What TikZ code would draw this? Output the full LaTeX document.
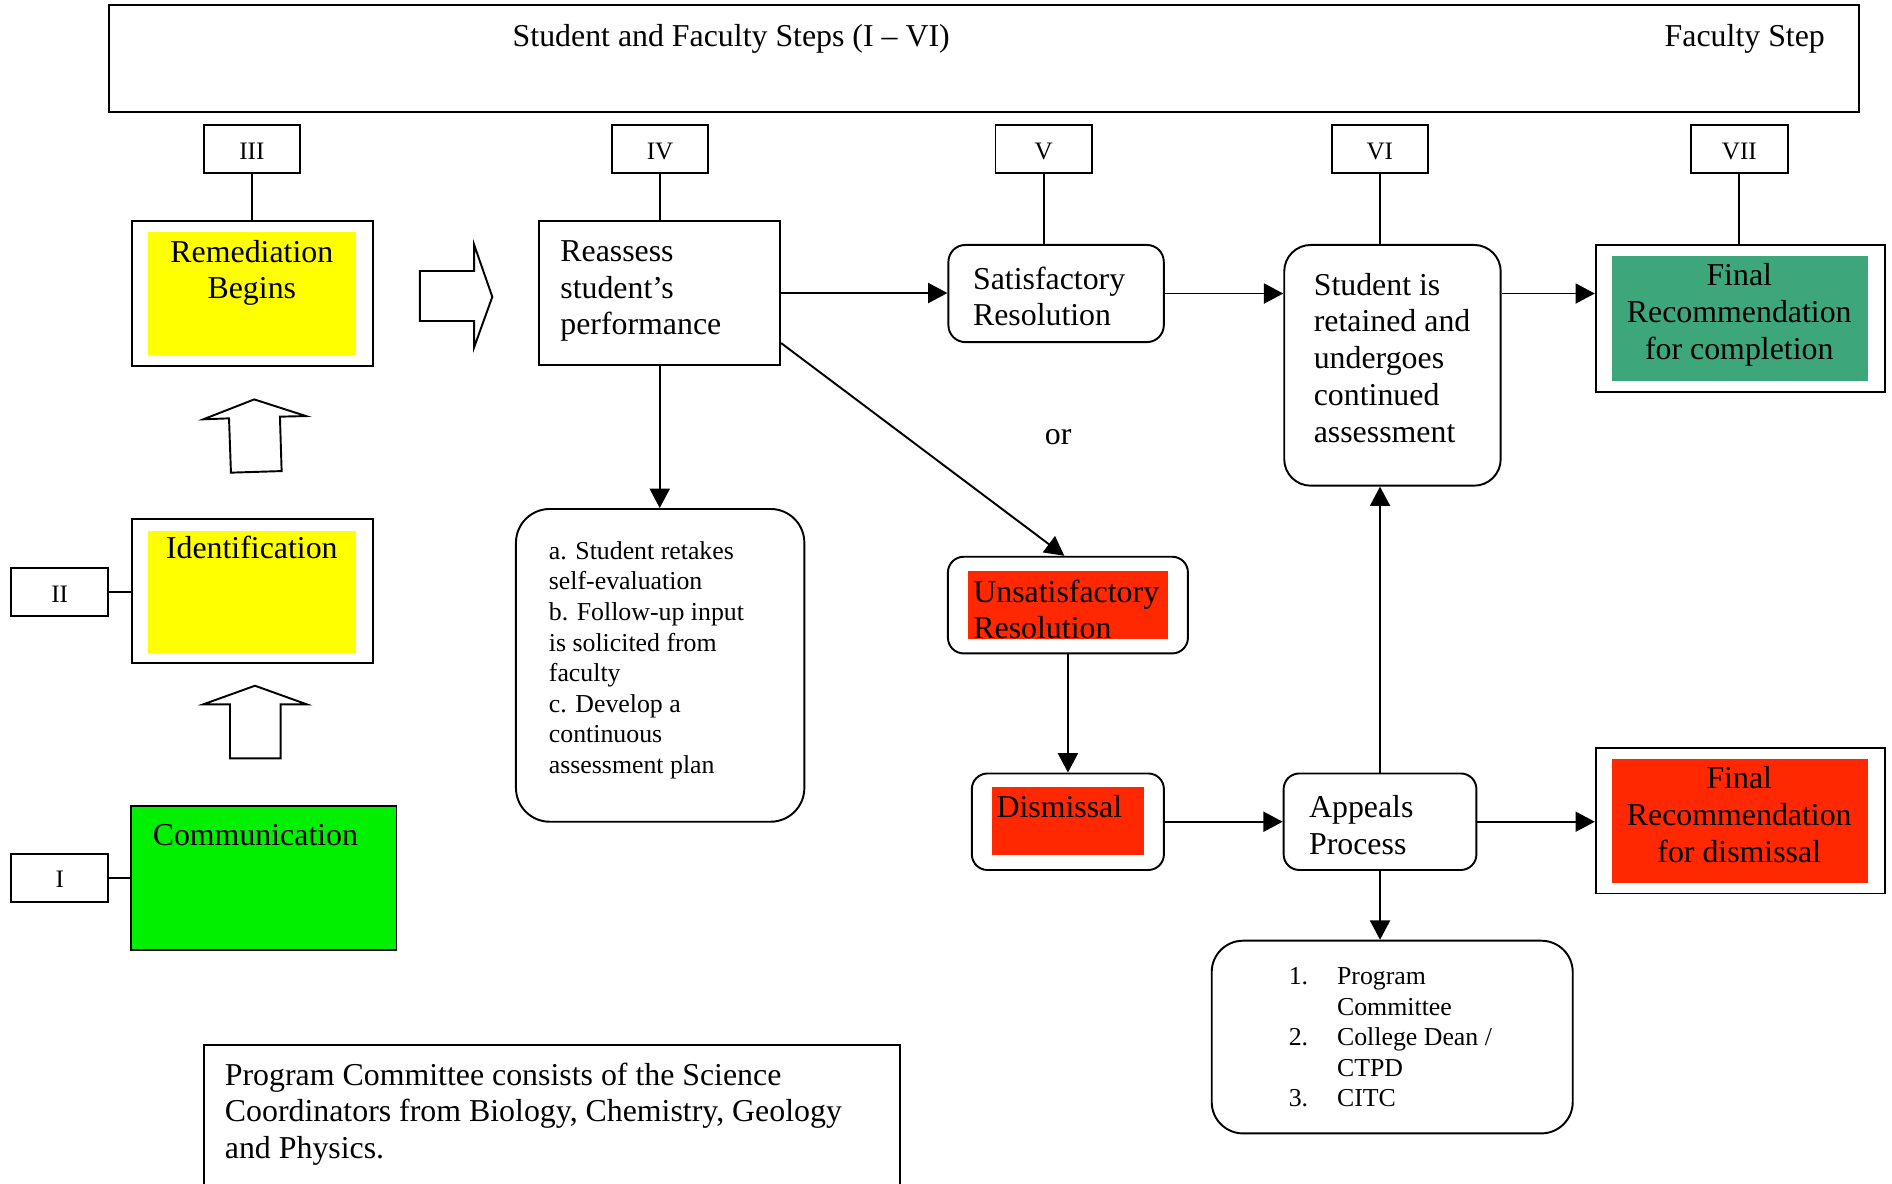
\documentclass[tikz,border=0pt]{standalone}
\usepackage{fontspec}
\setmainfont{Liberation Serif}
\usetikzlibrary{arrows.meta,fit,calc}
\definecolor{hlyellow}{HTML}{FFFF00}
\definecolor{hlgreen}{HTML}{00F000}
\definecolor{tealgreen}{HTML}{3DA67A}
\definecolor{hlred}{HTML}{FF2800}
\newcommand\fmain{\fontsize{13.2}{15.25}\selectfont}
\newcommand\fsmall{\fontsize{10.7}{12.65}\selectfont}
\newcommand\flab{\fontsize{10.4}{12}\selectfont}
\begin{document}
\begin{tikzpicture}[x=0.5pt,y=-0.5pt,
  box/.style={draw, line width=0.8pt, fill=white, inner sep=0pt},
  rbox/.style={box, rounded corners=#1},
  fillbox/.style={fill=#1, draw=none, inner sep=0pt},
  lab/.style={draw, line width=0.8pt, fill=white, minimum width=40pt, minimum height=20pt, inner sep=0pt, text height=8.4pt, text depth=0pt, font=\flab},
  txt/.style={inner sep=0pt, font=\fmain, align=left, anchor=north west},
  ctxt/.style={inner sep=0pt, font=\fmain, align=center, anchor=north},
  stxt/.style={inner sep=0pt, font=\fsmall, align=left, anchor=north west},
  conn/.style={line width=0.8pt},
  arr/.style={line width=0.8pt, -{Triangle[length=8pt,width=8.3pt]}},
  blockarrow/.style={line width=0.8pt, fill=white, line join=miter}
]
\useasboundingbox (0,0) rectangle (1568,981);
\fill[white] (0,0) rectangle (1568,981);

% header
\node[box, fit={(90,4.1)(1541,93.1)}] (top) {};
\node[anchor=base, inner sep=0pt, font=\fmain] (toptxt) at (606,38.5) {Student and Faculty Steps (I – VI)};
\node[anchor=base, inner sep=0pt, font=\fmain] (factxt) at (1446,38.5) {Faculty Step};

% step labels
\node[lab] (s3) at (208.7,123.5) {III};
\node[lab] (s4) at (547,123.5) {IV};
\node[lab] (s5) at (865,123.5) {V};
\node[lab] (s6) at (1143.5,123.5) {VI};
\node[lab] (s7) at (1441.5,123.5) {VII};
\node[lab] (s2) at (49.5,490.5) {II};
\node[lab] (s1) at (49.5,727.5) {I};

% left column
\node[box, fit={(109.7,183.2)(308.9,303)}] (rem) {};
\node[fillbox=hlyellow, fit={(122.4,192.3)(295,294.2)}] (remf) {};
\node[ctxt] (remt) at (208.7,195.5) {\strut Remediation\\Begins};

\node[box, fit={(109.7,430)(308.9,549.5)}] (ident) {};
\node[fillbox=hlyellow, fit={(122.4,440)(295,541)}] (identf) {};
\node[anchor=base, inner sep=0pt, font=\fmain] (identt) at (208.7,463.2) {Identification};

\node[box, fill=hlgreen, fit={(108.9,667.7)(328.6,787.6)}] (comm) {};
\node[anchor=base west, inner sep=0pt, font=\fmain] (commt) at (126.2,700.8) {Communication};

% block arrows
\draw[blockarrow] (348,224.6) -- (393,224.6) -- (393,203) -- (408,246) -- (393,287.6) -- (393,266) -- (348,266) -- cycle;
\draw[blockarrow] (210.7,331) -- (253.6,344.8) -- (232,345.3) -- (233.4,390.4) -- (191.4,391.7) -- (189.8,346.7) -- (168.5,347.5) -- cycle;
\draw[blockarrow] (211.3,568.3) -- (254.2,583.7) -- (232.6,583.7) -- (232.6,628.5) -- (190.6,628.5) -- (190.6,583.7) -- (168.5,583.7) -- cycle;

% reassess column
\node[box, fit={(447,183.2)(646.5,302.5)}] (reas) {};
\node[txt] (reast) at (464,194.85) {\strut Reassess\\student’s\\performance};

\node[rbox=14pt, fit={(427.6,421.8)(666.6,681)}] (tbox) {};
\node[stxt] (tboxt) at (454.5,445.5) {\strut a. Student retakes\\self-evaluation\\b. Follow-up input\\is solicited from\\faculty\\c. Develop a\\continuous\\assessment plan};

% satisfactory
\node[rbox=7pt, fit={(786,203)(964.5,283.5)}] (sat) {};
\node[txt] (satt) at (806,217.85) {\strut Satisfactory\\Resolution};

\node[anchor=base, inner sep=0pt, font=\fmain] (ortxt) at (877,368.2) {or};

% unsatisfactory
\node[rbox=6.5pt, fit={(785.6,461.4)(984.5,541.5)}] (unsat) {};
\node[fillbox=hlred, fit={(802.4,473.2)(968,529.3)}] (unsatf) {};
\node[txt] (unsatt) at (806.3,477.25) {\strut Unsatisfactory\\Resolution};

% dismissal
\node[rbox=6.5pt, fit={(805.4,641)(964.6,721)}] (dism) {};
\node[fillbox=hlred, fit={(822.2,652.3)(948,708.3)}] (dismf) {};
\node[anchor=base west, inner sep=0pt, font=\fmain] (dismt) at (825.5,677.3) {Dismissal};

% student retained
\node[rbox=11pt, fit={(1064.3,203)(1243.7,402.5)}] (stu) {};
\node[txt] (stut) at (1088.4,222.85) {\strut Student is\\retained and\\undergoes\\continued\\assessment};

% appeals
\node[rbox=6.5pt, fit={(1063.8,641)(1223.6,721)}] (app) {};
\node[txt] (appt) at (1084.5,655.95) {\strut Appeals\\Process};

% program list
\node[rbox=13pt, fit={(1004.2,779.6)(1303.4,939.3)}] (plist) {};
\node[stxt] (plistt) at (1067.7,797.8) {\strut\makebox[20pt][l]{1.}Program\\\hspace*{20pt}Committee\\\makebox[20pt][l]{2.}College Dean /\\\hspace*{20pt}CTPD\\\makebox[20pt][l]{3.}CITC};

% final recommendations
\node[box, fit={(1322.5,203)(1562,324.9)}] (fin1) {};
\node[fillbox=tealgreen, fit={(1335.9,212.2)(1548,315.5)}] (fin1f) {};
\node[ctxt] (fin1t) at (1441.4,214.85) {\strut Final\\Recommendation\\for completion};

\node[box, fit={(1322.5,620)(1562,740.5)}] (fin2) {};
\node[fillbox=hlred, fit={(1335.9,629)(1548,731.5)}] (fin2f) {};
\node[ctxt] (fin2t) at (1441.4,631.85) {\strut Final\\Recommendation\\for dismissal};

% bottom note
\node[box, fit={(168.7,866)(746,990)}] (note) {};
\node[txt] (notet) at (186,877.55) {\strut Program Committee consists of the Science\\Coordinators from Biology, Chemistry, Geology\\and Physics.};

% connectors
\draw[conn] (s3.south) -- (s3.south |- rem.north);
\draw[conn] (s4.south) -- (s4.south |- reas.north);
\draw[conn] (s5.south) -- (s5.south |- sat.north);
\draw[conn] (s6.south) -- (s6.south |- stu.north);
\draw[conn] (s7.south) -- (s7.south |- fin1.north);
\draw[conn] (s2.east) -- (s2.east -| ident.west);
\draw[conn] (s1.east) -- (s1.east -| comm.west);

\draw[arr] (reas.east) -- (reas.east -| sat.west);
\draw[arr] (sat.east) -- (sat.east -| stu.west);
\draw[arr] (sat.east -| stu.east) -- (sat.east -| fin1.west);
\draw[arr] ([yshift=9.5pt]reas.south east) -- ([xshift=-1.5pt]unsat.north);
\draw[arr] (reas.south) -- (reas.south |- tbox.north);
\draw[arr] (unsat.south) -- (unsat.south |- dism.north);
\draw[arr] (dism.east) -- (dism.east -| app.west);
\draw[arr] (app.north) -- (app.north |- stu.south);
\draw[arr] (app.east) -- (app.east -| fin2.west);
\draw[arr] (app.south) -- (app.south |- plist.north);
\end{tikzpicture}
\end{document}
